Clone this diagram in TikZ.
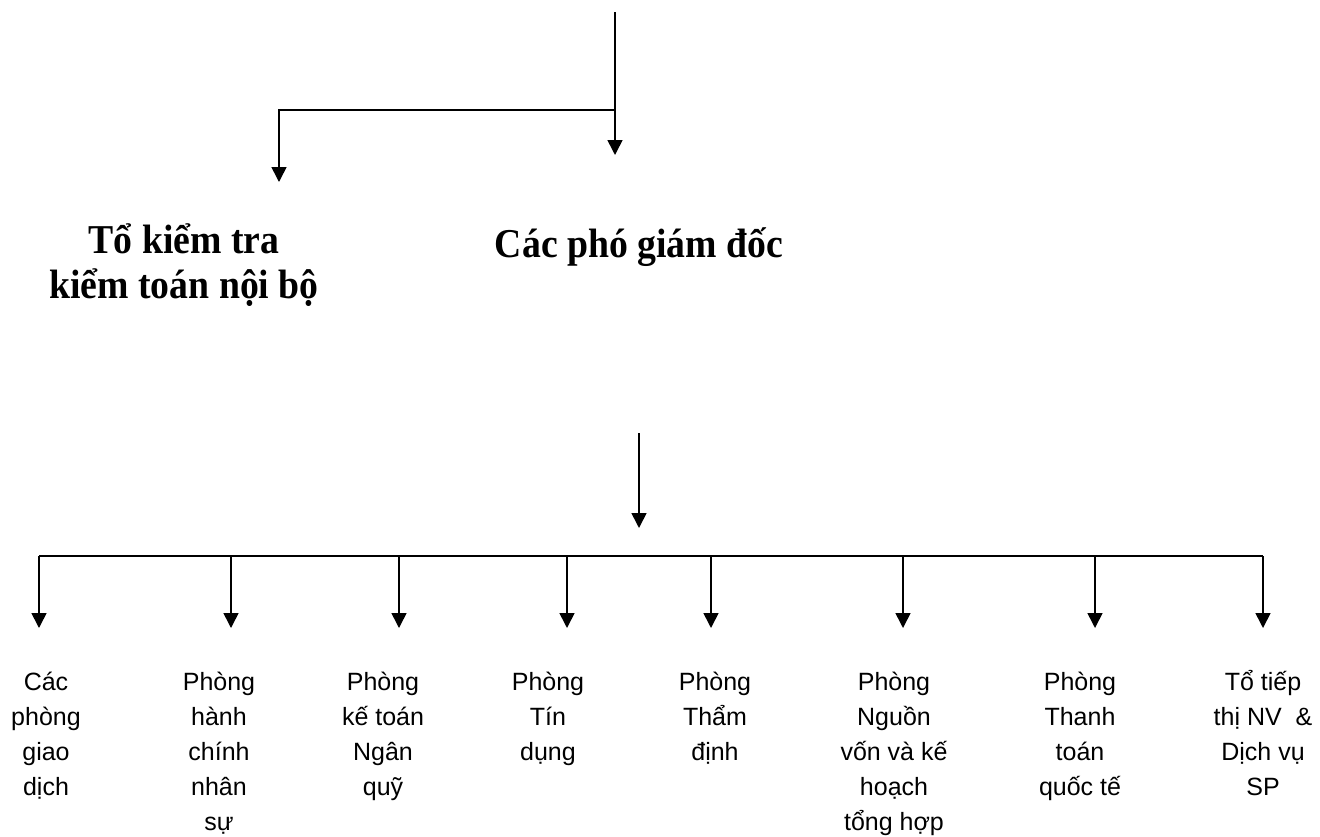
\documentclass[tikz,border=0pt]{standalone}
\usepackage{fontspec}
\setmainfont{Liberation Serif}
\newfontfamily\arialfont{Liberation Sans}
\newfontfamily\headfont[FakeStretch=0.92]{Liberation Serif}
\usetikzlibrary{arrows.meta, positioning}

\begin{document}
\begin{tikzpicture}[
    x=1pt, y=-1pt,
    >={Triangle[width=15pt, length=15pt]},
    arr/.style={->, line width=1.6pt},
    conn/.style={line width=1.4pt},
    head/.style={font=\headfont\fontsize{41}{45}\selectfont\bfseries, align=center, inner sep=0pt, anchor=base},
    dept/.style={font=\arialfont\fontsize{25}{35}\selectfont, align=center, inner sep=0pt, anchor=base},
]
\useasboundingbox (0,0) rectangle (1320,836);
% ============================================================
% TOP:  incoming line, split to audit team and deputy directors
% ============================================================
\coordinate (src) at (615,12);
\coordinate (split) at (615,110);
\coordinate (pgdTip) at (615,155);
\coordinate (ktTip) at (279,182);
\draw[arr] (src) -- (pgdTip);
\draw[arr] (split) -| (ktTip);
% --- headings (base = last line) ---
\node[head] (kiemtoan) at (184,298) {Tổ kiểm tra\\kiểm toán nội bộ};
\node[head] (phogd) at (639,257) {Các phó giám đốc};
% ============================================================
% BOTTOM:  deputy directors -> departments
% ============================================================
\coordinate (pgdOut) at (639,433);
\coordinate (busIn) at (639,528);
\draw[arr] (pgdOut) -- (busIn);
\coordinate (busL) at (39,556);
\coordinate (busR) at (1263,556);
\draw[conn] (busL) -- (busR);
% departments (\n = number of lines, first baseline at 690)
\foreach \i/\ax/\tx/\n/\name in {
    1/39/46/4/{Các\\phòng\\giao\\dịch},
    2/231/219/5/{Phòng\\hành\\chính\\nhân\\sự},
    3/399/383/4/{Phòng\\kế toán\\Ngân\\quỹ},
    4/567/548/3/{Phòng\\Tín\\dụng},
    5/711/715/3/{Phòng\\Thẩm\\định},
    6/903/894/5/{Phòng\\Nguồn\\vốn và kế\\hoạch\\tổng hợp},
    7/1095/1080/4/{Phòng\\Thanh\\toán\\quốc tế},
    8/1263/1263/4/{Tổ tiếp\\thị NV~ \&\\Dịch vụ\\SP}} {
    \coordinate (tip\i) at (\ax,628);
    \draw[arr] (tip\i |- busL) -- (tip\i);
    \node[dept] (dept\i) at (\tx,655+35*\n) {\name};
}
\end{tikzpicture}
\end{document}
